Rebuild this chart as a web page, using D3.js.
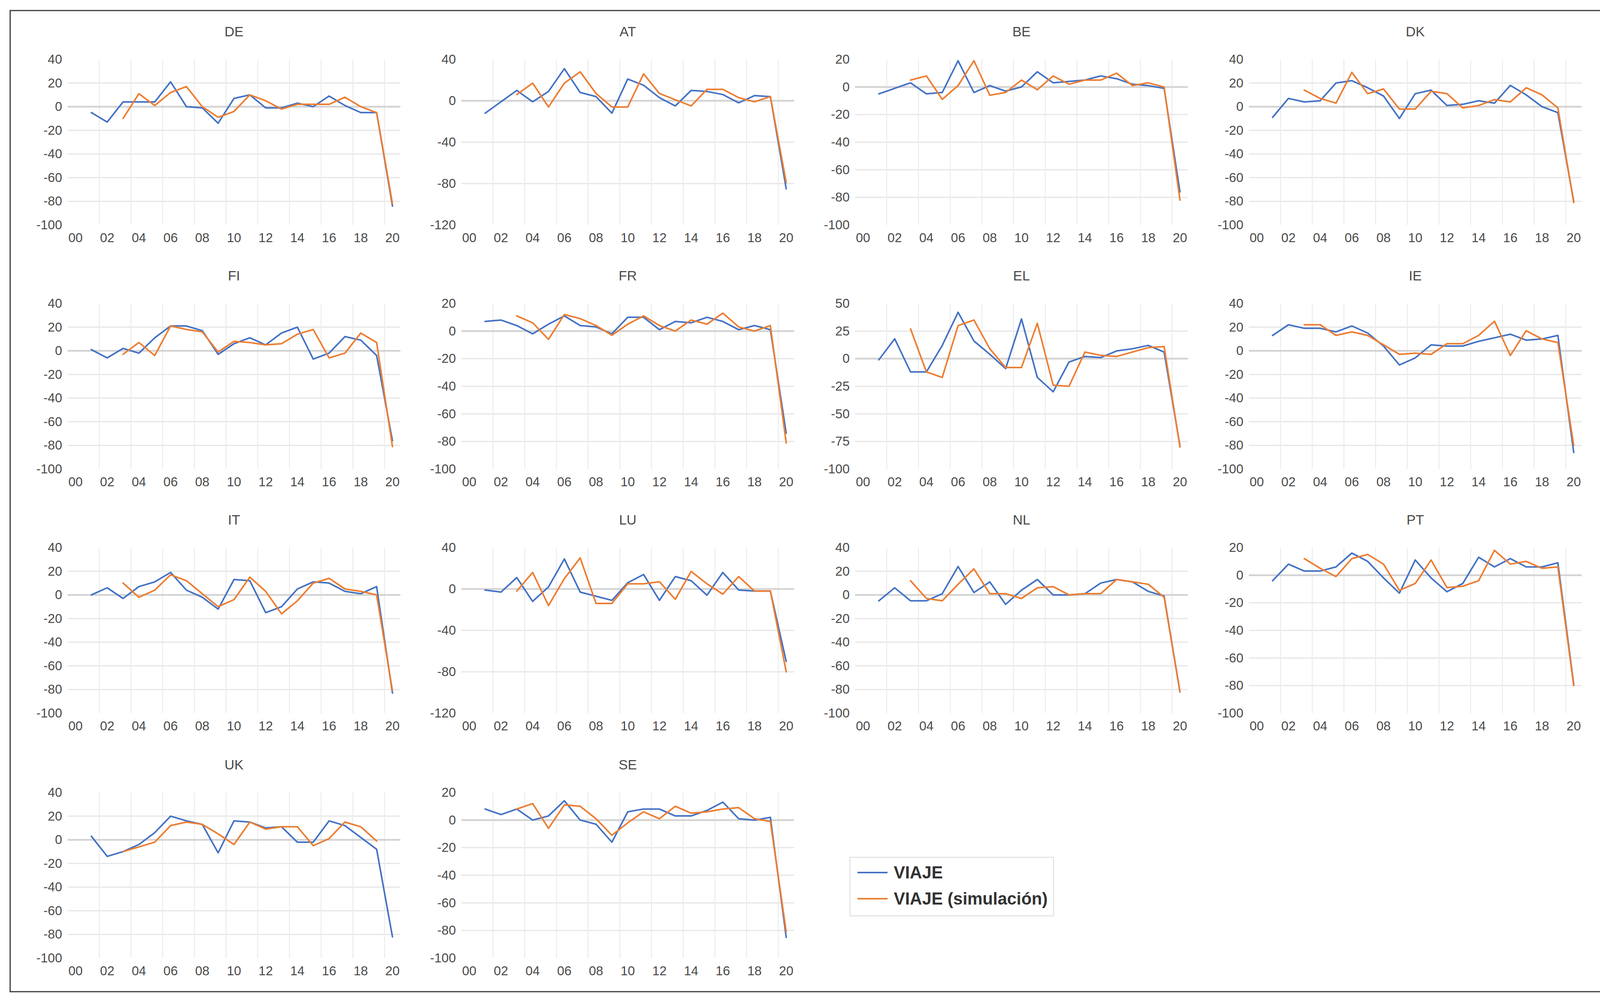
<!DOCTYPE html>
<html>
<head>
<meta charset="utf-8">
<script src="https://cdn.jsdelivr.net/npm/d3@7/dist/d3.min.js"></script>
<style>
  html, body { margin: 0; padding: 0; background: #ffffff; }
  svg { display: block; }
</style>
</head>
<body>
<svg id="chart" width="4146" height="2568"></svg>
<script>
// ---------------- DATA ----------------
const years = ["00","01","02","03","04","05","06","07","08","09","10","11","12","13","14","15","16","17","18","19","20"];
const yearTickLabels = ["00","02","04","06","08","10","12","14","16","18","20"];
const seriesNames = ["VIAJE", "VIAJE (simulación)"];
const countries = ["DE","AT","BE","DK","FI","FR","EL","IE","IT","LU","NL","PT","UK","SE"];

// y-axis tick labels per panel (top to bottom)
const ticks20_100 = [40, 20, 0, -20, -40, -60, -80, -100];
const ticks40_120 = [40, 0, -40, -80, -120];
const ticks20top = [20, 0, -20, -40, -60, -80, -100];
const ticks25 = [50, 25, 0, -25, -50, -75, -100];
const countryTicks = [ticks20_100, ticks40_120, ticks20top, ticks20_100,
                      ticks20_100, ticks20top, ticks25, ticks20_100,
                      ticks20_100, ticks40_120, ticks20_100, ticks20top,
                      ticks20_100, ticks20top];

// VIAJE (blue) and VIAJE (simulación) (orange), years 2000..2020
const DE_viaje = [null, -5, -13, 4, 4, 4, 21, 0, -1, -14, 7, 10, -1, -1, 3, 0, 9, 1, -5, -5, -84];
const DE_sim   = [null, null, null, -10, 11, 1, 12, 17, 0, -9, -4, 10, 5, -2, 2, 2, 2, 8, 0, -5, -82];
const AT_viaje = [null, -12, -1, 10, -1, 9, 31, 8, 4, -12, 21, 15, 3, -5, 10, 9, 6, -2, 5, 4, -85];
const AT_sim   = [null, null, null, 6, 17, -6, 17, 28, 7, -6, -6, 26, 7, 1, -5, 11, 11, 3, -1, 4, -79];
const BE_viaje = [null, -5, -1, 3, -5, -4, 19, -4, 1, -3, 0, 11, 3, 4, 5, 8, 6, 2, 1, -1, -76];
const BE_sim   = [null, null, null, 5, 8, -9, 1, 19, -6, -4, 5, -2, 8, 2, 5, 5, 10, 1, 3, 0, -82];
const DK_viaje = [null, -9, 7, 4, 5, 20, 22, 16, 9, -10, 11, 14, 1, 2, 5, 3, 18, 10, 0, -5, -80];
const DK_sim   = [null, null, null, 14, 7, 3, 29, 11, 15, -2, -2, 13, 11, -1, 1, 6, 4, 16, 10, -1, -81];
const FI_viaje = [null, 1, -6, 2, -2, 11, 21, 21, 17, -3, 6, 11, 5, 15, 20, -7, -2, 12, 9, -4, -76];
const FI_sim   = [null, null, null, -3, 7, -4, 21, 18, 16, -1, 8, 7, 5, 6, 14, 18, -6, -2, 15, 7, -81];
const FR_viaje = [null, 7, 8, 4, -2, 5, 11, 4, 3, -2, 10, 10, 1, 7, 6, 10, 7, 1, 4, 1, -74];
const FR_sim   = [null, null, null, 11, 6, -6, 12, 9, 4, -3, 5, 11, 4, 0, 8, 5, 13, 3, 0, 4, -81];
const EL_viaje = [null, -1, 18, -12, -12, 12, 42, 16, 4, -9, 36, -17, -30, -3, 2, 1, 7, 9, 12, 6, -79];
const EL_sim   = [null, null, null, 27, -12, -17, 30, 35, 9, -8, -8, 32, -24, -25, 6, 3, 2, 6, 10, 11, -80];
const IE_viaje = [null, 13, 22, 19, 19, 16, 21, 15, 4, -12, -6, 5, 4, 4, 8, 11, 14, 9, 10, 13, -86];
const IE_sim   = [null, null, null, 22, 22, 13, 16, 13, 5, -3, -2, -3, 6, 6, 13, 25, -4, 17, 10, 7, -80];
const IT_viaje = [null, 0, 6, -3, 7, 11, 19, 4, -2, -12, 13, 12, -15, -10, 5, 11, 10, 3, 1, 7, -83];
const IT_sim   = [null, null, null, 10, -2, 4, 17, 12, 1, -10, -4, 15, 3, -16, -5, 10, 14, 5, 3, 0, -81];
const LU_viaje = [null, -1, -3, 11, -12, 2, 29, -3, -7, -11, 6, 14, -11, 12, 8, -6, 16, -1, -2, -2, -70];
const LU_sim   = [null, null, null, -2, 16, -16, 10, 30, -14, -14, 5, 5, 7, -10, 17, 5, -5, 12, -2, -2, -80];
const NL_viaje = [null, -5, 6, -5, -5, 1, 24, 2, 11, -8, 4, 13, 0, 0, 1, 10, 13, 11, 3, -1, -82];
const NL_sim   = [null, null, null, 12, -3, -5, 9, 22, 1, 1, -3, 6, 7, 0, 1, 1, 13, 11, 9, -2, -82];
const PT_viaje = [null, -4, 8, 3, 3, 6, 16, 10, -2, -13, 11, -2, -12, -6, 13, 6, 12, 6, 6, 9, -79];
const PT_sim   = [null, null, null, 12, 5, -1, 12, 15, 8, -11, -6, 11, -9, -8, -4, 18, 8, 10, 5, 6, -80];
const UK_viaje = [null, 3, -14, -10, -4, 6, 20, 16, 13, -11, 16, 15, 10, 11, -2, -2, 16, 12, 2, -8, -82];
const UK_sim   = [null, null, null, -10, -6, -2, 12, 15, 13, 5, -4, 15, 9, 11, 11, -5, 1, 15, 11, -1, null];
const SE_viaje = [null, 8, 4, 8, 0, 3, 14, 0, -3, -16, 6, 8, 8, 3, 3, 7, 13, 1, 0, 2, -85];
const SE_sim   = [null, null, null, 8, 12, -6, 11, 10, 1, -11, -2, 6, 1, 10, 5, 6, 8, 9, 1, -1, -81];

const viajeSeries = [DE_viaje, AT_viaje, BE_viaje, DK_viaje, FI_viaje, FR_viaje, EL_viaje,
                     IE_viaje, IT_viaje, LU_viaje, NL_viaje, PT_viaje, UK_viaje, SE_viaje];
const simSeries   = [DE_sim, AT_sim, BE_sim, DK_sim, FI_sim, FR_sim, EL_sim,
                     IE_sim, IT_sim, LU_sim, NL_sim, PT_sim, UK_sim, SE_sim];

// ---------------- LAYOUT / STYLE ----------------
const W = 4146, H = 2568;
const colLeft = [173, 1181, 2189, 3197];
const rowTop = [152, 777, 1402, 2029];
const plotW = 852, plotH = 424;
const colors = ["#4472C4", "#ED7D31"];
const fontFamily = "'Liberation Sans', Arial, sans-serif";
const textColor = "#4a4a4a";

const svg = d3.select("#chart");
svg.append("rect").attr("x", 0).attr("y", 0).attr("width", W).attr("height", H).attr("fill", "#fff");
// outer frame
svg.append("rect").attr("x", 26).attr("y", 27).attr("width", 4098).attr("height", 2512)
  .attr("fill", "none").attr("stroke", "#3a3a3a").attr("stroke-width", 3);

countries.forEach((name, i) => {
  const col = i % 4, row = Math.floor(i / 4);
  const ticks = countryTicks[i];
  const g = svg.append("g").attr("transform", `translate(${colLeft[col]},${rowTop[row]})`);

  const x = d3.scaleBand().domain(years).range([0, plotW]).padding(0);
  const y = d3.scaleLinear().domain([d3.min(ticks), d3.max(ticks)]).range([plotH, 0]);

  // horizontal gridlines (inner)
  g.append("g").selectAll("line")
    .data(ticks.filter(t => t !== d3.min(ticks) && t !== d3.max(ticks) && t !== 0))
    .join("line")
    .attr("x1", 0).attr("x2", plotW)
    .attr("y1", d => y(d)).attr("y2", d => y(d))
    .attr("stroke", "#e6e6e6").attr("stroke-width", 3);

  // vertical gridlines at category boundaries
  g.append("g").selectAll("line")
    .data(yearTickLabels.slice(1))
    .join("line")
    .attr("x1", d => x(d)).attr("x2", d => x(d))
    .attr("y1", 0).attr("y2", plotH)
    .attr("stroke", "#ececec").attr("stroke-width", 2.5);

  // horizontal axis line at zero
  g.append("line")
    .attr("x1", 0).attr("x2", plotW)
    .attr("y1", y(0)).attr("y2", y(0))
    .attr("stroke", "#d3d3d3").attr("stroke-width", 4.5);

  // series
  const line = d3.line()
    .defined(d => d.v !== null)
    .x(d => x(d.k) + x.bandwidth() / 2)
    .y(d => y(d.v));
  [viajeSeries[i], simSeries[i]].forEach((vals, s) => {
    const pts = years.map((k, j) => ({ k: k, v: vals[j] }));
    g.append("path")
      .datum(pts)
      .attr("d", line)
      .attr("fill", "none")
      .attr("stroke", colors[s])
      .attr("stroke-width", 4)
      .attr("stroke-linejoin", "round")
      .attr("stroke-linecap", "round");
  });

  // y axis labels
  const yAxis = d3.axisLeft(y).tickValues(ticks).tickSize(0).tickPadding(14)
    .tickFormat(d => String(d));
  const ya = g.append("g").call(yAxis);
  ya.select(".domain").remove();
  ya.selectAll("text").attr("font-family", fontFamily).attr("font-size", 33).attr("fill", textColor);

  // x axis labels
  const xAxis = d3.axisBottom(x).tickValues(yearTickLabels).tickSize(0).tickPadding(21);
  const xa = g.append("g").attr("transform", `translate(0,${plotH})`).call(xAxis);
  xa.select(".domain").remove();
  xa.selectAll("text").attr("font-family", fontFamily).attr("font-size", 33).attr("fill", textColor);

  // title
  g.append("text")
    .attr("x", plotW / 2).attr("y", -72)
    .attr("text-anchor", "middle").attr("dominant-baseline", "central")
    .attr("font-family", fontFamily).attr("font-size", 35).attr("fill", textColor)
    .text(name);
});

// legend
const lg = svg.append("g");
lg.append("rect").attr("x", 2176).attr("y", 2195).attr("width", 521).attr("height", 150)
  .attr("fill", "#fff").attr("stroke", "#e0e0e0").attr("stroke-width", 2.5);
seriesNames.forEach((s, i) => {
  const cy = 2234 + i * 67;
  lg.append("line").attr("x1", 2195).attr("x2", 2272).attr("y1", cy).attr("y2", cy)
    .attr("stroke", colors[i]).attr("stroke-width", 4);
  lg.append("text").attr("x", 2288).attr("y", cy)
    .attr("dominant-baseline", "central")
    .attr("font-family", fontFamily).attr("font-size", 43.5).attr("font-weight", "bold")
    .attr("fill", "#333333")
    .text(s);
});
</script>
</body>
</html>
